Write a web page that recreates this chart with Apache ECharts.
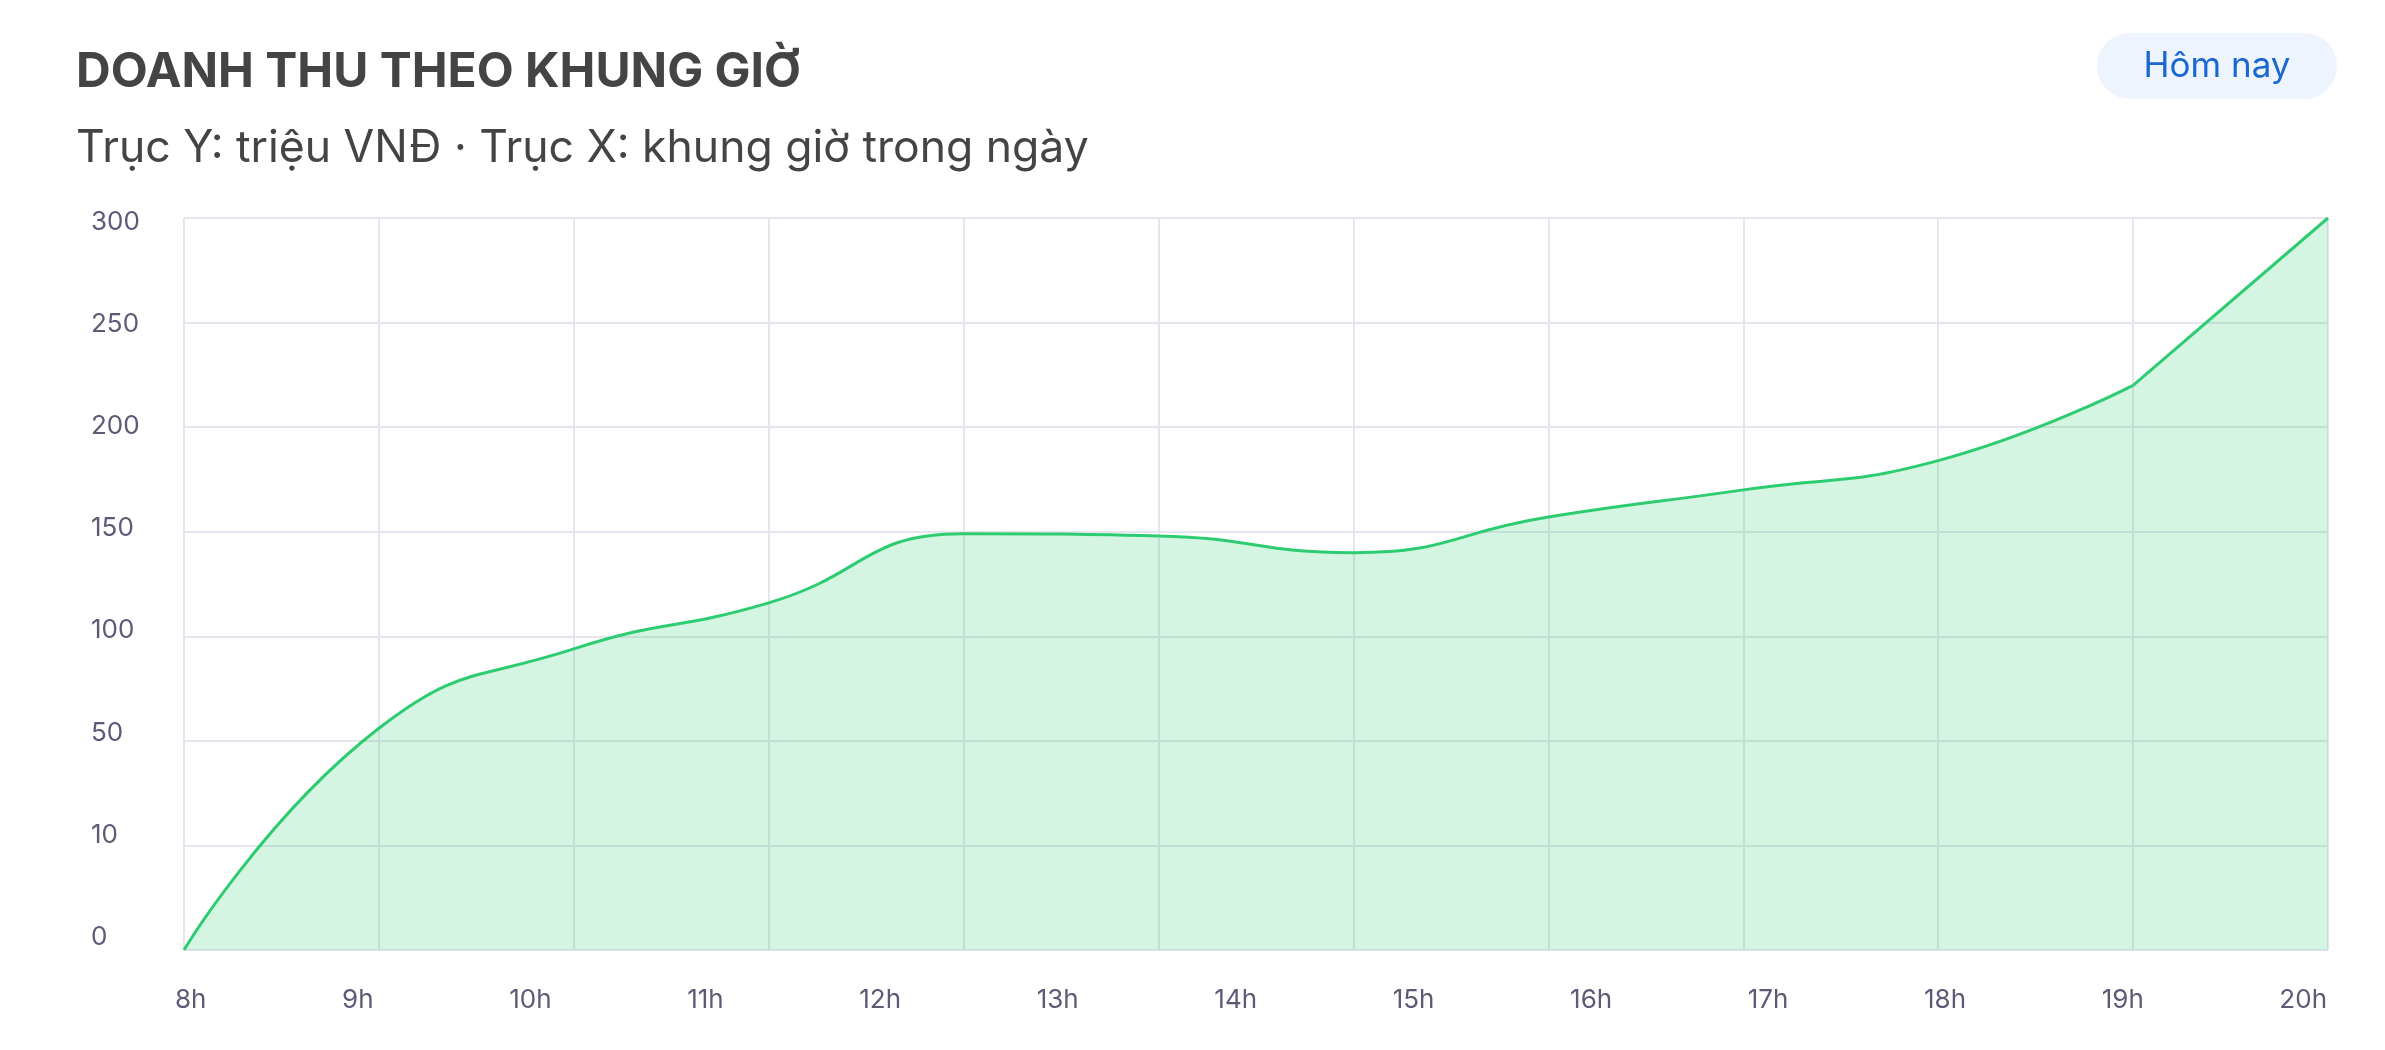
<!DOCTYPE html>
<html>
<head>
<meta charset="utf-8">
<script src="https://cdn.jsdelivr.net/npm/echarts@6/dist/echarts.min.js"></script>
<style>
html,body{margin:0;padding:0;background:#ffffff;}
#c{width:2385px;height:1050px;}
</style>
</head>
<body>
<div id="c"></div>
<script>
// ---- data ----
const hourLabels = ['8h','9h','10h','11h','12h','13h','14h','15h','16h','17h','18h','19h','20h'];
const yTickLabels = ['0','10','50','100','150','200','250','300'];
const revenue = [0, 56, 94, 116, 149, 148, 140, 157, 170, 184, 220, 300];

// map a value onto the evenly spaced (non-linear) tick scale
const tickValues = yTickLabels.map(Number);
function toTickPos(v) {
  for (let i = 1; i < tickValues.length; i++) {
    if (v <= tickValues[i]) return (i - 1) + (v - tickValues[i - 1]) / (tickValues[i] - tickValues[i - 1]);
  }
  return tickValues.length - 1;
}

const FONT = 'Inter';
const LABEL_FONT_SIZE = 26;
const LABEL_COLOR = '#5B5B78';

// hour labels are justified across the label row (equal gaps between labels)
const LABEL_ROW_LEFT = 175, LABEL_ROW_RIGHT = 58;
const rowSpan = 2385 - LABEL_ROW_LEFT - LABEL_ROW_RIGHT;
const mctx = document.createElement('canvas').getContext('2d');
mctx.font = LABEL_FONT_SIZE + 'px ' + FONT;
const widths = hourLabels.map(t => mctx.measureText(t).width);
const gap = (rowSpan - widths.reduce((a, b) => a + b, 0)) / (hourLabels.length - 1);
const labelPos = [];
let acc = 0;
widths.forEach((w) => { labelPos.push((acc + w / 2) / rowSpan); acc += w + gap; });
const labelAt = new Map(labelPos.map((p, i) => [p, hourLabels[i]]));

const pts = revenue.map((v, i) => [i, toTickPos(v)]);
const lastIdx = pts.length - 1;

const lineStyle = {color: '#2ECC71', width: 3};
const areaStyle = {color: '#2ECC71', opacity: 0.2};

const chart = echarts.init(document.getElementById('c'), null, {renderer: 'canvas'});
const option = {
  backgroundColor: '#ffffff',
  animation: false,
  graphic: [
    {type: 'text', left: 76, top: 49, style: {text: 'DOANH THU THEO KHUNG GIỜ', font: 'bold 48px Inter', fill: '#444444'}},
    {type: 'text', left: 76, top: 126, style: {text: 'Trục Y: triệu VNĐ · Trục X: khung giờ trong ngày', font: '44.5px Inter', fill: '#444444'}},
    {type: 'rect', shape: {x: 2097, y: 33, width: 240, height: 66, r: 33}, style: {fill: '#EEF4FD'}},
    {type: 'text', x: 2217, y: 66, style: {text: 'Hôm nay', font: '35px Inter', fill: '#1A66D2', align: 'center', verticalAlign: 'middle'}}
  ],
  grid: [
    {left: 184, right: 57, top: 218, bottom: 100},
    {left: 191, right: 81, top: 222, bottom: 113},
    {left: LABEL_ROW_LEFT, right: LABEL_ROW_RIGHT, top: 222, bottom: 115}
  ],
  xAxis: [
    {type: 'value', gridIndex: 0, min: 0, max: lastIdx, interval: 1,
     axisLine: {show: false}, axisTick: {show: false}, axisLabel: {show: false},
     splitLine: {show: true, lineStyle: {color: '#E5E5EE', width: 2}}},
    {type: 'value', gridIndex: 1, min: 0, max: 1, show: false},
    {type: 'value', gridIndex: 2, min: 0, max: 1,
     axisLine: {show: false}, axisTick: {show: false}, splitLine: {show: false},
     axisLabel: {show: true, customValues: labelPos, margin: 65, verticalAlign: 'middle',
       color: LABEL_COLOR, fontSize: LABEL_FONT_SIZE, fontFamily: FONT,
       formatter: v => labelAt.get(v) ?? ''}}
  ],
  yAxis: [
    {type: 'value', gridIndex: 0, min: 0, max: yTickLabels.length - 1, interval: 1,
     axisLine: {show: false}, axisTick: {show: false}, axisLabel: {show: false},
     splitLine: {show: true, lineStyle: {color: '#E5E5EE', width: 2}}},
    {type: 'value', gridIndex: 1, min: 0, max: yTickLabels.length - 1, interval: 1,
     axisLine: {show: false}, axisTick: {show: false}, splitLine: {show: false},
     axisLabel: {show: true, margin: 100, align: 'left', color: LABEL_COLOR, fontSize: LABEL_FONT_SIZE, fontFamily: FONT,
       formatter: v => yTickLabels[v] ?? ''}},
    {type: 'value', gridIndex: 2, min: 0, max: 1, show: false}
  ],
  series: [
    {type: 'line', xAxisIndex: 0, yAxisIndex: 0,
     data: pts.slice(0, lastIdx), smooth: 0.5, symbol: 'none',
     lineStyle: lineStyle, areaStyle: areaStyle},
    {type: 'line', xAxisIndex: 0, yAxisIndex: 0,
     data: pts.slice(lastIdx - 1), smooth: false, symbol: 'none',
     lineStyle: lineStyle, areaStyle: areaStyle}
  ]
};
chart.setOption(option);
</script>
</body>
</html>
